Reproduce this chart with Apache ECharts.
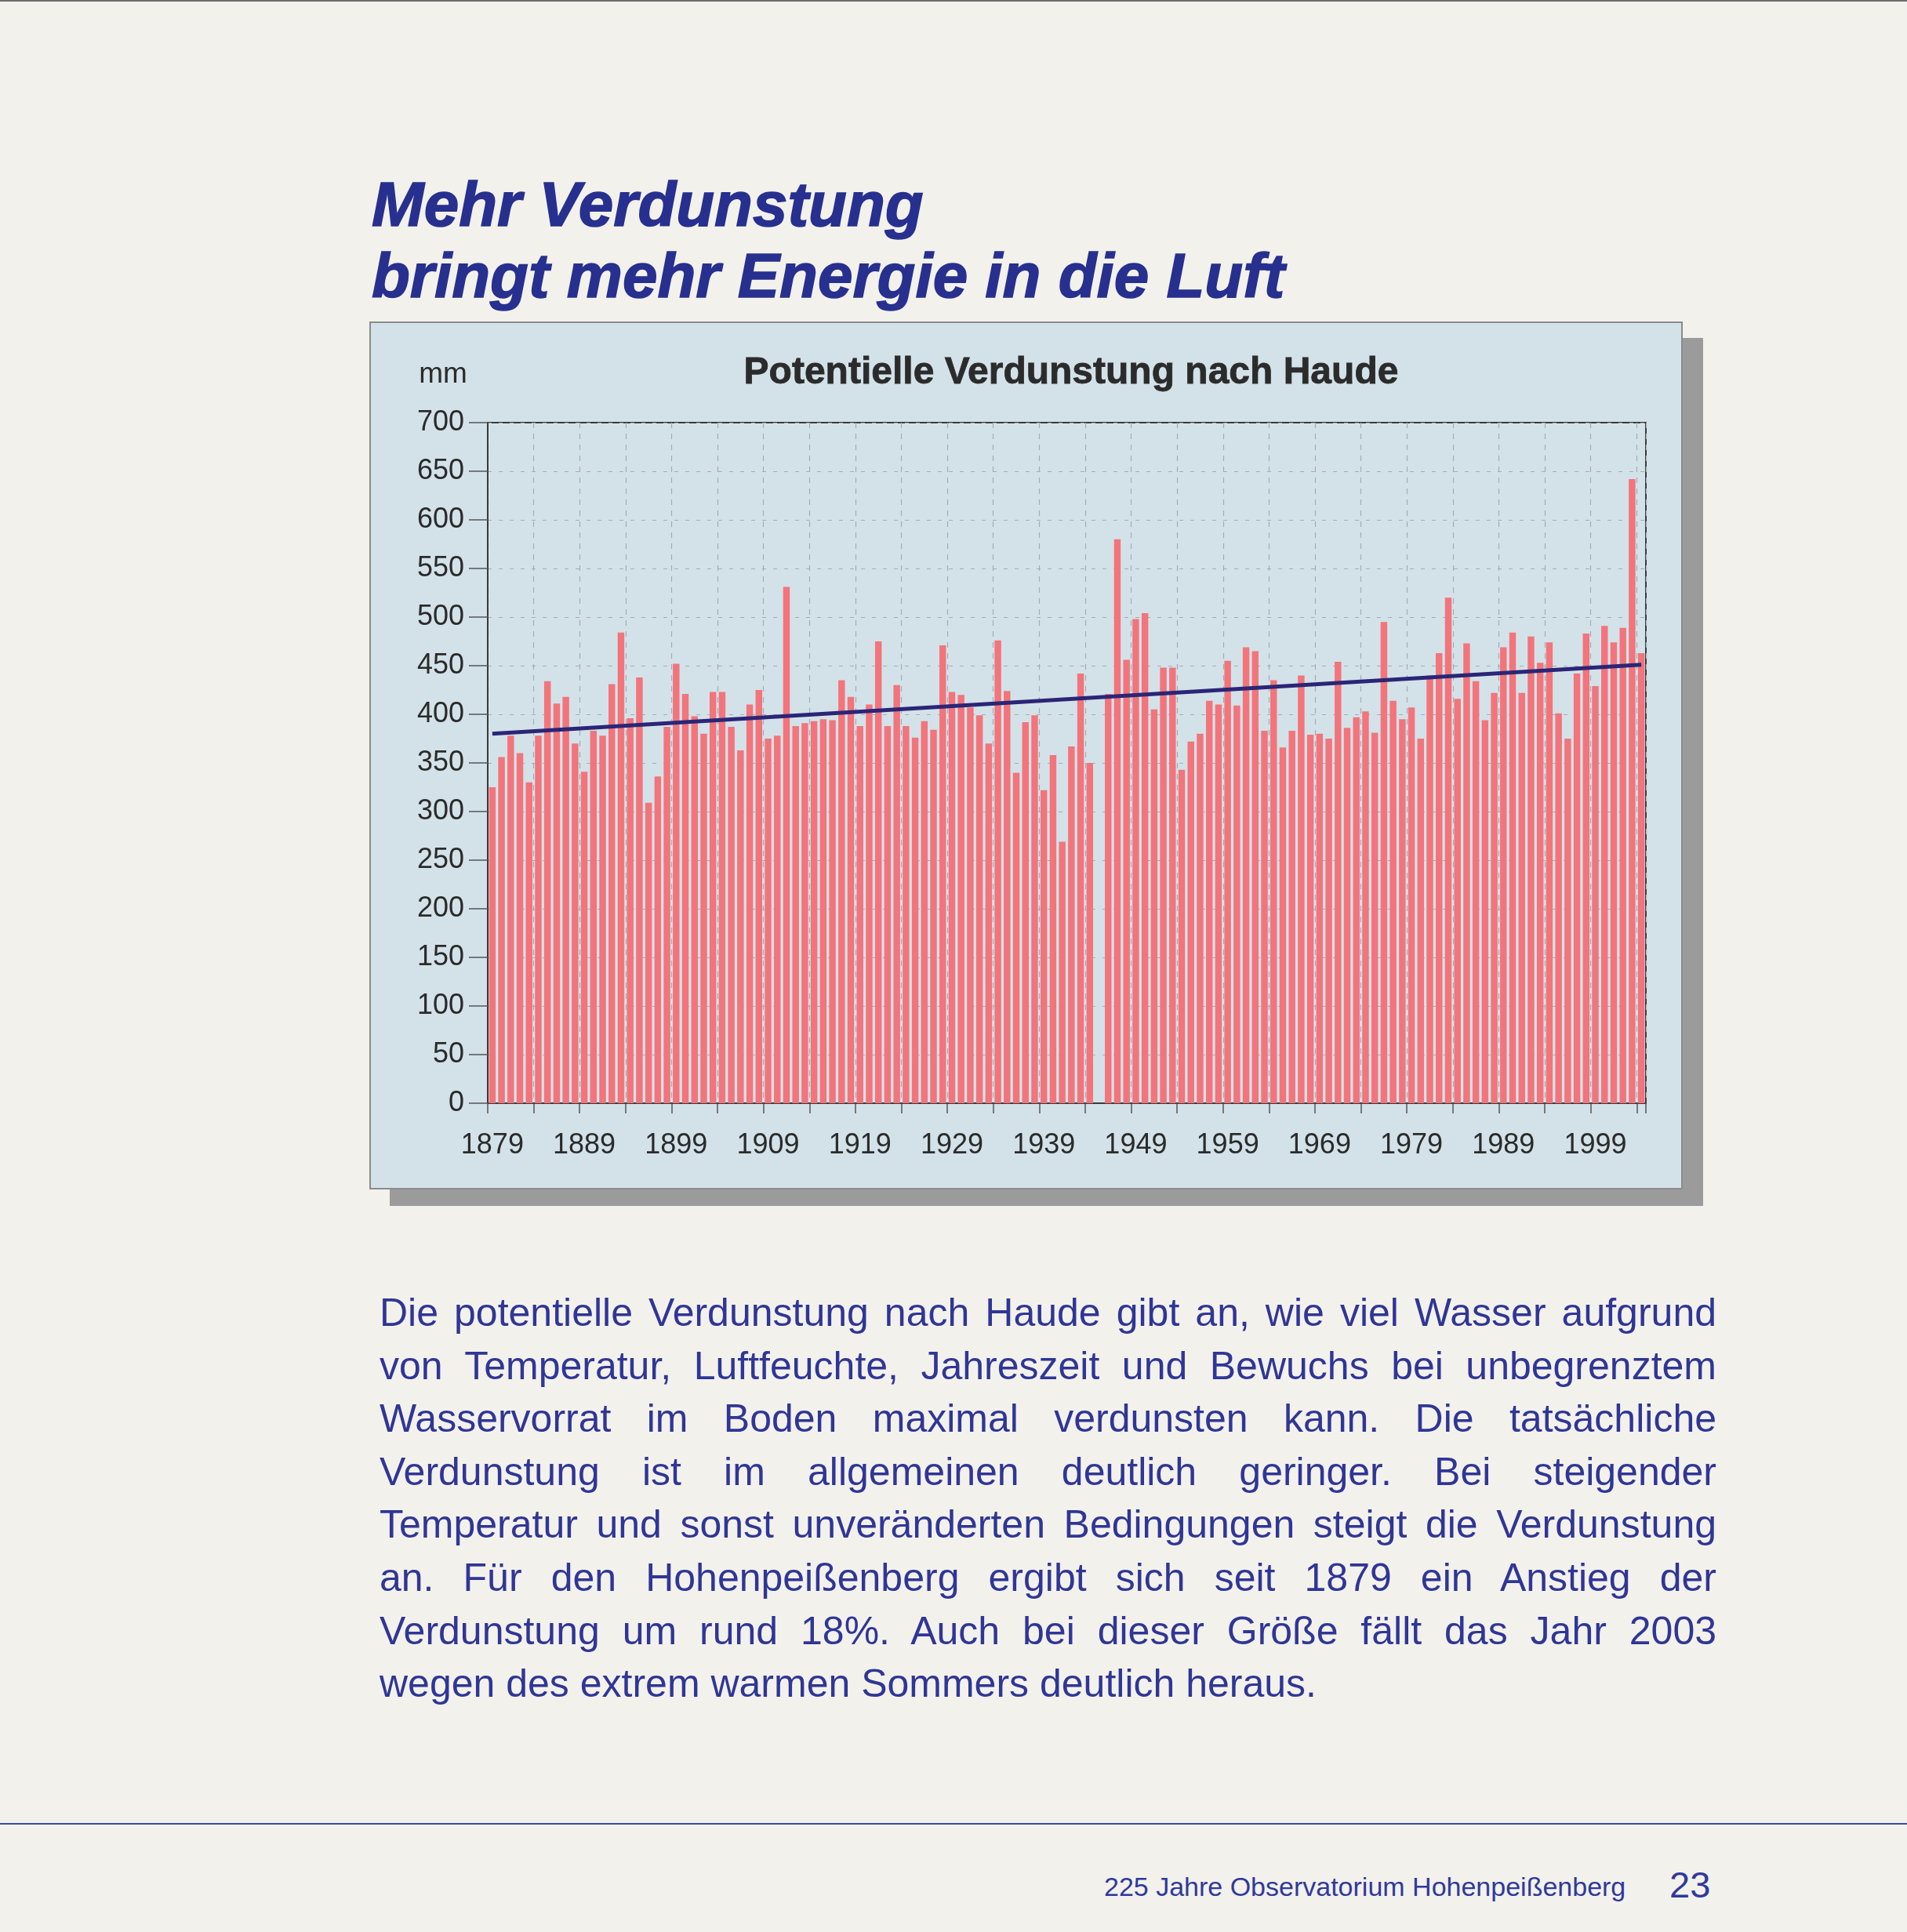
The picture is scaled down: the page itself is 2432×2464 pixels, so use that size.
<!DOCTYPE html>
<html><head><meta charset="utf-8">
<script src="https://cdn.jsdelivr.net/npm/echarts@6/dist/echarts.min.js"></script>
<style>
html,body{margin:0;padding:0;}
body{width:2432px;height:2464px;background:#f3f1eb;position:relative;overflow:hidden;font-family:"Liberation Sans",Arial,sans-serif;border-top:2px solid #6b6b6b;box-sizing:border-box;}
.h{position:absolute;left:474px;font-weight:bold;font-style:italic;font-size:80px;line-height:1;color:#27308f;white-space:nowrap;-webkit-text-stroke:1.5px #27308f;}
#panel{position:absolute;left:471px;top:408px;width:1675px;height:1107px;box-sizing:border-box;border:2px solid #8b8b8b;background:#d3e2e9;box-shadow:26px 21px 0 0 #9b9b9b;}
#chart{width:1671px;height:1103px;}
.p{position:absolute;left:484px;top:1639px;width:1705px;font-size:50px;line-height:67.6px;color:#2f3696;}
.p div{text-align:justify;text-align-last:justify;}
.p div.last{text-align:left;text-align-last:left;}
.rule{position:absolute;left:0;top:2323px;width:2432px;height:2px;background:#3d48a6;}
.foot{position:absolute;line-height:1;color:#2f3a9c;white-space:nowrap;}
</style></head>
<body>
<div class="h" style="top:219px">Mehr Verdunstung</div>
<div class="h" style="top:310px">bringt mehr Energie in die Luft</div>
<div id="panel"><div id="chart"></div></div>
<div class="p">
<div>Die potentielle Verdunstung nach Haude gibt an, wie viel Wasser aufgrund</div>
<div>von Temperatur, Luftfeuchte, Jahreszeit und Bewuchs bei unbegrenztem</div>
<div>Wasservorrat im Boden maximal verdunsten kann. Die tatsächliche</div>
<div>Verdunstung ist im allgemeinen deutlich geringer. Bei steigender</div>
<div>Temperatur und sonst unveränderten Bedingungen steigt die Verdunstung</div>
<div>an. Für den Hohenpeißenberg ergibt sich seit 1879 ein Anstieg der</div>
<div>Verdunstung um rund 18%. Auch bei dieser Größe fällt das Jahr 2003</div>
<div class="last">wegen des extrem warmen Sommers deutlich heraus.</div>
</div>
<div class="rule"></div>
<div class="foot" style="left:1408px;top:2387px;font-size:34px;">225 Jahre Observatorium Hohenpeißenberg</div>
<div class="foot" style="left:2129px;top:2378px;font-size:47px;">23</div>
<script>
// Categories: years 1879 .. 2004
const firstYear = 1879;
const lastYear = 2004;
const years = [];
for (let y = firstYear; y <= lastYear; y++) years.push(String(y));

// Potential evaporation after Haude, mm; 1945 missing
const evap1879_1888 = [325, 356, 378, 360, 330, 378, 434, 411, 418, 370];
const evap1889_1898 = [341, 383, 378, 431, 484, 396, 438, 309, 336, 387];
const evap1899_1908 = [452, 421, 398, 380, 423, 423, 387, 363, 410, 425];
const evap1909_1918 = [375, 378, 531, 388, 391, 393, 395, 394, 435, 418];
const evap1919_1928 = [388, 410, 475, 388, 430, 388, 376, 393, 384, 471];
const evap1929_1938 = [423, 420, 407, 399, 370, 476, 424, 340, 392, 399];
const evap1939_1948 = [322, 358, 269, 367, 442, 350, null, 421, 580, 456];
const evap1949_1958 = [498, 504, 405, 448, 448, 343, 372, 380, 414, 410];
const evap1959_1968 = [455, 409, 469, 465, 383, 435, 366, 383, 440, 379];
const evap1969_1978 = [380, 375, 454, 386, 397, 403, 381, 495, 414, 395];
const evap1979_1988 = [407, 375, 440, 463, 520, 416, 473, 434, 394, 422];
const evap1989_1998 = [469, 484, 422, 480, 453, 474, 401, 375, 442, 483];
const evap1999_2004 = [429, 491, 474, 489, 642, 463];
const evaporation = [].concat(evap1879_1888, evap1889_1898, evap1899_1908, evap1909_1918,
  evap1919_1928, evap1929_1938, evap1939_1948, evap1949_1958, evap1959_1968,
  evap1969_1978, evap1979_1988, evap1989_1998, evap1999_2004);

// Linear trend, end values (mm)
const trendStart = 380;
const trendEnd = 451;

// Axis ticks
const yMin = 0, yMax = 700, yStep = 50;
const xLabelEvery = 10, xTickEvery = 5;

const chart = echarts.init(document.getElementById('chart'), null, {renderer: 'canvas'});
const font = '"Liberation Sans", Arial, sans-serif';
chart.setOption({
  animation: false,
  textStyle: {fontFamily: font},
  grid: {left: 149, top: 127, width: 1477, height: 868, show: true,
    borderColor: '#3a3a3a', borderWidth: 2, backgroundColor: 'transparent'},
  xAxis: {
    type: 'category', data: years, boundaryGap: true,
    axisLine: {show: true, lineStyle: {color: '#3a3a3a', width: 2}},
    axisTick: {show: true, interval: xTickEvery - 1, length: 13, lineStyle: {color: '#555', width: 1.5}},
    axisLabel: {interval: xLabelEvery - 1, fontSize: 36, color: '#2b2b2b', margin: 36, fontFamily: font},
    splitLine: {show: true, interval: xTickEvery - 1, lineStyle: {color: '#a2adb3', type: [7, 7], width: 1.2}}
  },
  yAxis: {
    type: 'value', min: yMin, max: yMax, interval: yStep,
    axisLine: {show: true, lineStyle: {color: '#3a3a3a', width: 2}},
    axisTick: {show: true, length: 24, lineStyle: {color: '#555', width: 1.5}},
    axisLabel: {fontSize: 36, color: '#2b2b2b', margin: 30, fontFamily: font},
    splitLine: {show: true, lineStyle: {color: '#a2adb3', type: [5, 9], width: 1.2}}
  },
  series: [
    {type: 'bar', data: evaporation, barCategoryGap: '28%', itemStyle: {color: '#f3747b'}},
    {type: 'line', data: [[years[0], trendStart], [years[years.length - 1], trendEnd]],
      symbol: 'none', z: 5, lineStyle: {color: '#2b2577', width: 5}}
  ],
  graphic: [
    {type: 'text', x: 893, y: 64, style: {text: 'Potentielle Verdunstung nach Haude',
      font: 'bold 48px ' + font, fill: '#2b2b2b', stroke: '#2b2b2b', lineWidth: 0.8,
      align: 'center', verticalAlign: 'middle', textAlign: 'center', textVerticalAlign: 'middle'}},
    {type: 'text', x: 92, y: 66, style: {text: 'mm', font: '37px ' + font, fill: '#2b2b2b',
      align: 'center', verticalAlign: 'middle', textAlign: 'center', textVerticalAlign: 'middle'}}
  ]
});
</script>
</body></html>
